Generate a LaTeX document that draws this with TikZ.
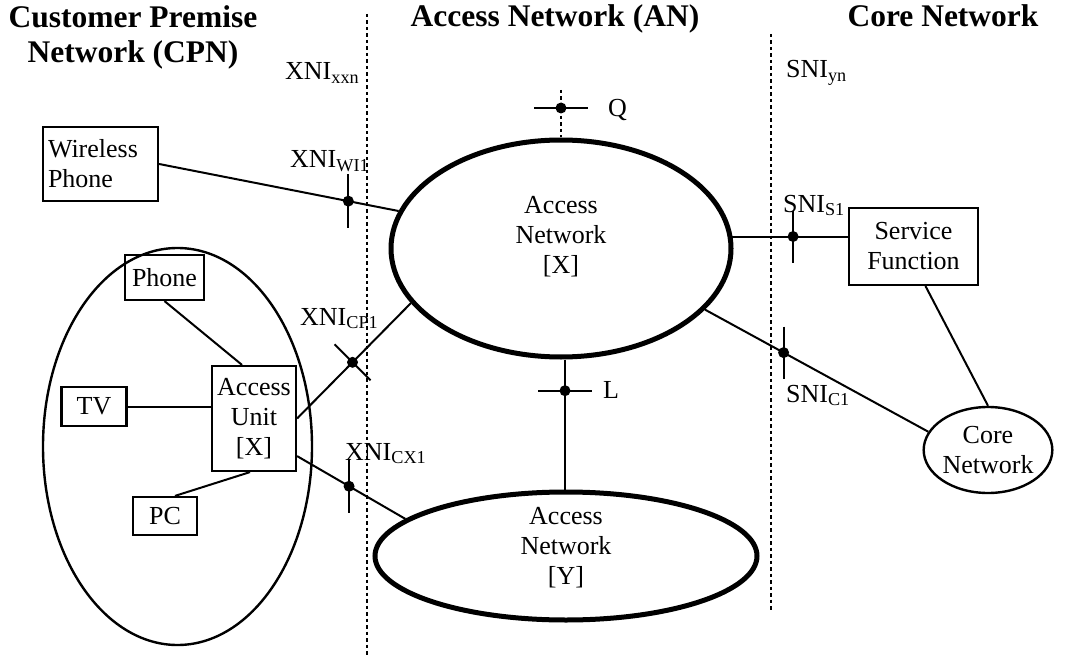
\documentclass[tikz,border=0pt]{standalone}
\usepackage{fontspec}
\setmainfont{Liberation Serif}
\usetikzlibrary{shapes.geometric}

\tikzset{
  txt/.style={font=\fontsize{26}{30}\selectfont, inner sep=0pt},
  hdr/.style={font=\bfseries\fontsize{31.5}{35}\selectfont, inner sep=0pt, align=center},
  unitbox/.style={draw, line width=2.2pt, inner sep=0pt, align=center, txt},
  netell/.style={draw, ellipse, line width=5pt, inner sep=0pt},
  thinell/.style={draw, ellipse, line width=2.4pt, inner sep=0pt, align=center, txt},
  link/.style={line width=2pt},
  ifmark/.style={line width=2pt},
  ifdot/.style={fill=black},
  border/.style={line width=2pt, dash pattern=on 3.5pt off 3pt}
}

\begin{document}
\begin{tikzpicture}[x=1pt,y=-1pt]
                \useasboundingbox (0,0) rectangle (1081,655);

                % headings
                \node[hdr] (hd-cpn) at (133,37.5) {Customer Premise\\Network (CPN)};
                \node[hdr, anchor=base] (hd-an) at (555,27) {Access Network (AN)};
                \node[hdr, anchor=base] (hd-cn) at (943,27) {Core Network};

                % domain borders
                \coordinate (xni-top) at (367,14);
                \coordinate (xni-bot) at (367,655);
                \coordinate (sni-top) at (771,34);
                \coordinate (sni-bot) at (771,612);
                \draw[border] (xni-top) -- (xni-bot);
                \draw[border] (sni-top) -- (sni-bot);

                % customer premise side
                \node[thinell, minimum width=269pt, minimum height=397pt] (cpn) at (177.5,446.5) {};
                \node[unitbox, minimum width=115pt, minimum height=74pt, text width=105pt, align=left] (wl-phone) at (100.5,164) {Wireless\\Phone};
                \node[unitbox, minimum width=79pt, minimum height=45pt] (phone) at (164.5,277.5) {Phone};
                \node[unitbox, minimum width=65pt, minimum height=39pt] (tv) at (94,406.5) {TV};
                \node[unitbox, minimum width=64pt, minimum height=38pt] (pc) at (165,516) {PC};
                \node[unitbox, minimum width=84pt, minimum height=105pt] (acc-unit) at (254,418.5) {Access\\Unit\\{[X]}};

                % access networks
                \node[netell, minimum width=340pt, minimum height=217pt] (an-x) at (561,248.5) {};
                \node[txt, align=center] (an-x-txt) at (561,237) {Access\\Network\\{[X]}};
                \node[netell, minimum width=382pt, minimum height=128pt] (an-y) at (566,556) {};
                \node[txt, align=center] (an-y-txt) at (566,548) {Access\\Network\\{[Y]}};

                % core side
                \node[unitbox, minimum width=129pt, minimum height=77pt] (srv-fn) at (913.5,246.5) {Service\\Function};
                \node[thinell, minimum width=124pt, minimum height=86pt] (core) at (988,450) {Core\\Network};

                % links inside the premise
                \draw[link] (phone.south) -- ([xshift=-12pt]acc-unit.north);
                \draw[link] (tv.east) -- (tv.east -| acc-unit.west);
                \draw[link] ([xshift=-4pt]acc-unit.south) -- ([xshift=10pt]pc.north);

                % links with interface points
                \draw[link] (wl-phone.east) -- (an-x.167) coordinate[pos=.79] (p-wi1);
                \draw[link] (acc-unit.east) -- (an-x.200) coordinate[pos=.487] (p-cp1);
                \draw[link] ([yshift=16pt]acc-unit.south east) -- (an-y.167) coordinate[pos=.48] (p-cx1);
                \draw[link] ([xshift=4pt]an-x.south) -- ([xshift=-1pt]an-y.north) coordinate[pos=.24] (p-l);
                \draw[link] (an-x.4) -- (an-x.4 -| srv-fn.west) coordinate[pos=.525] (p-s1);
                \draw[link] (an-x.-23) -- (core.163) coordinate[pos=.352] (p-c1);
                \draw[link] ([xshift=12pt]srv-fn.south) -- (core.north);

                \coordinate (p-q) at (561,108);
                \draw[border] (561,90) -- (an-x.north);

                % interface marks
                \draw[ifmark] ([yshift=27pt]p-wi1) -- ([yshift=-27pt]p-wi1);
                \draw[ifmark] ([xshift=-18pt,yshift=18pt]p-cp1) -- ([xshift=18pt,yshift=-18pt]p-cp1);
                \draw[ifmark] ([yshift=27pt]p-cx1) -- ([yshift=-27pt]p-cx1);
                \draw[ifmark] ([xshift=-27pt]p-l) -- ([xshift=27pt]p-l);
                \draw[ifmark] ([yshift=26pt]p-s1) -- ([yshift=-26pt]p-s1);
                \draw[ifmark] ([yshift=26pt]p-c1) -- ([yshift=-26pt]p-c1);
                \draw[ifmark] ([xshift=-27pt]p-q) -- ([xshift=27pt]p-q);
                \foreach \p in {p-wi1,p-cp1,p-cx1,p-l,p-s1,p-c1,p-q}
                  \fill[ifdot] (\p) circle (5.5pt);

                % interface labels
                \node[txt, anchor=base west] (l-xxn) at (285,80) {XNI\textsubscript{xxn}};
                \node[txt, anchor=base west] (l-wi1) at (290,168) {XNI\textsubscript{WI1}};
                \node[txt, anchor=base west] (l-cp1) at (300,325) {XNI\textsubscript{CP1}};
                \node[txt, anchor=base west] (l-cx1) at (345,460) {XNI\textsubscript{CX1}};
                \node[txt, anchor=base west] (l-yn) at (786,78) {SNI\textsubscript{yn}};
                \node[txt, anchor=base west] (l-s1) at (783,212) {SNI\textsubscript{S1}};
                \node[txt, anchor=base west] (l-c1) at (786,402) {SNI\textsubscript{C1}};
                \node[txt, anchor=base west] (l-q) at (608,117) {Q};
                \node[txt, anchor=base west] (l-l) at (603,398) {L};

\end{tikzpicture}
\end{document}
